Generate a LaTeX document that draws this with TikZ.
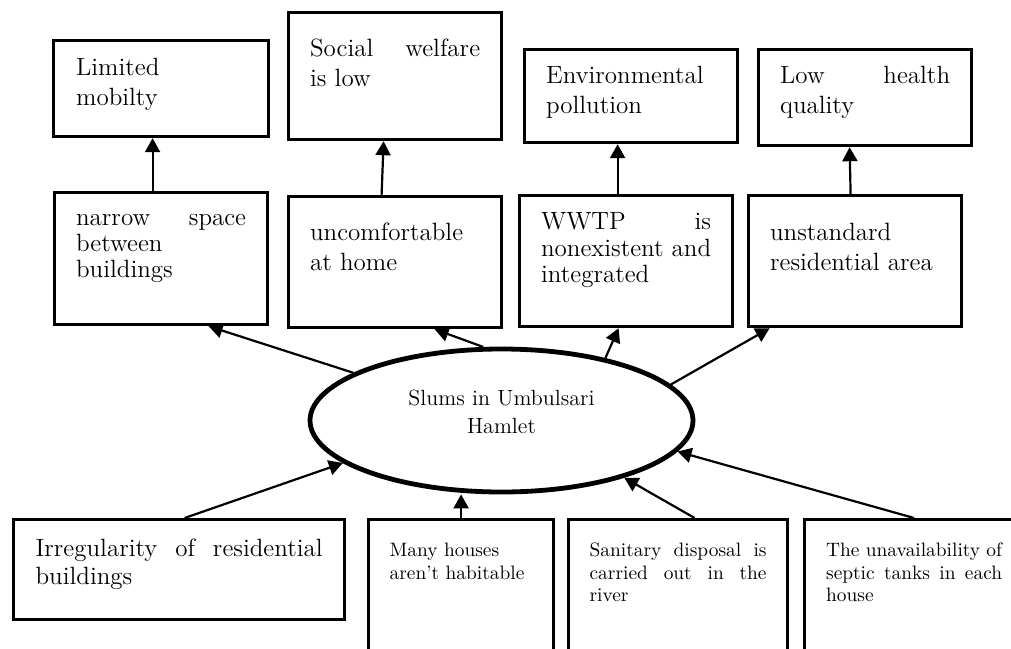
\documentclass[tikz,border=0pt]{standalone}
\usepackage{fontspec}
\usetikzlibrary{arrows.meta,shapes.geometric}

\begin{document}
\begin{tikzpicture}[x=0.5pt, y=-0.5pt,
	box/.style={draw, line width=1.6pt, anchor=north west, align=justify, text height=9pt, font=\fontsize{12.5}{15}\selectfont},
	smallbox/.style={box, text height=7.5pt, font=\fontsize{9.7}{11.3}\selectfont},
	arr/.style={-{Triangle[width=7.5pt,length=7pt]}, line width=1.1pt}]
	\path[use as bounding box, clip] (0,0) rectangle (1011,648);

	% effects
	\node[box, text width=85pt, inner xsep=11.25pt, inner ysep=8.5pt, text depth=22pt] at (52,39) (lim) {Limited\\mobilty};
	\node[box, text width=85pt, inner xsep=10.75pt, inner ysep=13pt, text depth=28.5pt] at (287,11) (soc) {Social welfare\linebreak is low};
	\node[box, text width=85pt, inner xsep=10.75pt, inner ysep=8pt, text depth=21.5pt] at (523,48) (env) {Environmental\\pollution};
	\node[box, text width=85pt, inner xsep=10.75pt, inner ysep=8pt, text depth=23pt] at (757,48) (low) {Low health\linebreak quality};

	% problems
	\node[box, text width=85pt, inner xsep=10.75pt, inner ysep=7.5pt, text depth=42pt, font=\fontsize{12.5}{13}\selectfont] at (53,191) (nar) {narrow space\linebreak between\\buildings};
	\node[box, text width=85pt, inner xsep=10.75pt, inner ysep=13pt, text depth=30.5pt] at (287,195) (unc) {uncomfortable\\at home};
	\node[box, text width=85pt, inner xsep=10.75pt, inner ysep=8pt, text depth=40.5pt, font=\fontsize{12.5}{13.25}\selectfont] at (518,194) (wwtp) {WWTP is\linebreak nonexistent and\linebreak integrated};
	\node[box, text width=85pt, inner xsep=10.75pt, inner ysep=13.5pt, text depth=29.5pt] at (747,194) (uns) {unstandard\\residential area};

	\node[draw, ellipse, line width=2.4pt, minimum width=191.5pt, minimum height=71.5pt, inner sep=0pt, text width=100pt, align=center, text height=8pt, text depth=23.5pt, font=\fontsize{11}{14}\selectfont] at (501.5,420.5) (ell) {Slums in Umbulsari\\Hamlet};

	% causes
	\node[box, text width=143.5pt, inner xsep=11pt, inner ysep=9.5pt, text depth=22pt, font=\fontsize{12.5}{14}\selectfont] at (12,518) (irr) {Irregularity of residential\linebreak buildings};
	\node[smallbox, align=left, text width=71.5pt, inner xsep=10.5pt, inner ysep=11pt, text depth=60pt] at (367,518) (many) {Many houses\\aren't habitable};
	\node[smallbox, text width=88.5pt, inner xsep=10.5pt, inner ysep=11pt, text depth=60pt] at (567,518) (san) {Sanitary disposal is\linebreak carried out in the\linebreak river};
	\node[smallbox, text width=88pt, inner xsep=10.75pt, inner ysep=11pt, text depth=60pt] at (803,518) (una) {The unavailability of\linebreak septic tanks in each\linebreak house};

	\draw[arr] ([xshift=-4.25pt]nar.north) to ([xshift=-4.25pt]lim.south);
	\draw[arr] ([xshift=-6.75pt]unc.north) to ([xshift=-5.75pt]soc.south);
	\draw[arr] ([xshift=-4.25pt]wwtp.north) to ([xshift=-6.75pt]env.south);
	\draw[arr] ([xshift=-2.25pt]uns.north) to ([xshift=-7.75pt]low.south);

	\draw[arr] (ell) to ([xshift=23.75pt]nar.south);
	\draw[arr] (ell.104) to ([xshift=19.75pt]unc.south);
	\draw[arr] (ell.31) to ([xshift=-3.75pt]wwtp.south);
	\draw[arr] (ell.12) to ([xshift=-42.75pt]uns.south);

	\draw[arr] ([xshift=2.75pt]irr.north) to (ell.195);
	\draw[arr] (many.north) to (many.north |- ell.south);
	\draw[arr] ([xshift=8.25pt]san.north) to (ell.335);
	\draw[arr] (una.north) to (ell.350);
\end{tikzpicture}
\end{document}
